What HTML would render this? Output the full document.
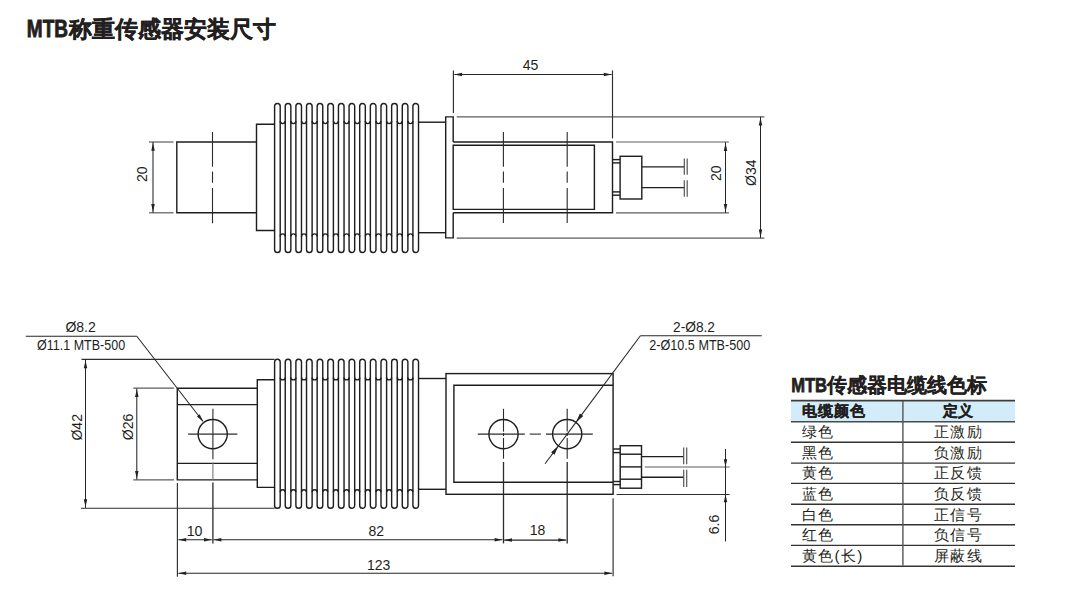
<!DOCTYPE html>
<html><head><meta charset="utf-8"><style>
html,body{margin:0;padding:0;background:#fff;width:1078px;height:609px;overflow:hidden;position:relative;font-family:"Liberation Sans",sans-serif;}
svg{position:absolute;left:0;top:0;}
.o{fill:none;stroke:#1e1e1e;stroke-width:1.42;}
.d{fill:none;stroke:#262626;stroke-width:1.05;}
.e{fill:none;stroke:#2e2e2e;stroke-width:1.15;}
.c{fill:none;stroke:#2a2a2a;stroke-width:1.1;}
.c2{fill:none;stroke:#777;stroke-width:1.1;}
.x{fill:none;stroke:#2a2a2a;stroke-width:1.3;}
.g{fill:none;stroke:#5c5c5c;stroke-width:1.2;}
.b{fill:none;stroke:#555;stroke-width:1.2;}
.ar{fill:#222;stroke:none;}
.t{fill:#1e1e1e;font-family:"Liberation Sans",sans-serif;}
.cj{fill:#231f20;font-family:"Liberation Sans",sans-serif;}
</style></head><body>
<svg width="1078" height="609" viewBox="0 0 1078 609">
<path class="o" d="M256.5,142 L176.8,142 L176.8,212.8 L256.5,212.8"/>
<line class="c" x1="212.50" y1="131.90" x2="212.50" y2="166.70"/>
<line class="c" x1="212.50" y1="171.60" x2="212.50" y2="182.80"/>
<line class="c" x1="212.50" y1="187.90" x2="212.50" y2="223.30"/>
<path class="o" d="M274.6,124.2 L256.5,124.2 L256.5,230.5 L274.6,230.5"/>
<path class="o" d="M274.60,106.30 A2.80,2.80 0 0 1 280.20,106.30 L280.20,249.70 A2.80,2.80 0 0 1 274.60,249.70 Z"/>
<path class="o" d="M285.24,106.30 A2.80,2.80 0 0 1 290.84,106.30 L290.84,249.70 A2.80,2.80 0 0 1 285.24,249.70 Z"/>
<path class="o" d="M295.88,106.30 A2.80,2.80 0 0 1 301.48,106.30 L301.48,249.70 A2.80,2.80 0 0 1 295.88,249.70 Z"/>
<path class="o" d="M306.52,106.30 A2.80,2.80 0 0 1 312.12,106.30 L312.12,249.70 A2.80,2.80 0 0 1 306.52,249.70 Z"/>
<path class="o" d="M317.16,106.30 A2.80,2.80 0 0 1 322.76,106.30 L322.76,249.70 A2.80,2.80 0 0 1 317.16,249.70 Z"/>
<path class="o" d="M327.80,106.30 A2.80,2.80 0 0 1 333.40,106.30 L333.40,249.70 A2.80,2.80 0 0 1 327.80,249.70 Z"/>
<path class="o" d="M338.44,106.30 A2.80,2.80 0 0 1 344.04,106.30 L344.04,249.70 A2.80,2.80 0 0 1 338.44,249.70 Z"/>
<path class="o" d="M349.08,106.30 A2.80,2.80 0 0 1 354.68,106.30 L354.68,249.70 A2.80,2.80 0 0 1 349.08,249.70 Z"/>
<path class="o" d="M359.72,106.30 A2.80,2.80 0 0 1 365.32,106.30 L365.32,249.70 A2.80,2.80 0 0 1 359.72,249.70 Z"/>
<path class="o" d="M370.36,106.30 A2.80,2.80 0 0 1 375.96,106.30 L375.96,249.70 A2.80,2.80 0 0 1 370.36,249.70 Z"/>
<path class="o" d="M381.00,106.30 A2.80,2.80 0 0 1 386.60,106.30 L386.60,249.70 A2.80,2.80 0 0 1 381.00,249.70 Z"/>
<path class="o" d="M391.64,106.30 A2.80,2.80 0 0 1 397.24,106.30 L397.24,249.70 A2.80,2.80 0 0 1 391.64,249.70 Z"/>
<path class="o" d="M402.28,106.30 A2.80,2.80 0 0 1 407.88,106.30 L407.88,249.70 A2.80,2.80 0 0 1 402.28,249.70 Z"/>
<path class="o" d="M412.92,106.30 A2.80,2.80 0 0 1 418.52,106.30 L418.52,249.70 A2.80,2.80 0 0 1 412.92,249.70 Z"/>
<path class="o" d="M280.20,121.08 A2.52,2.52 0 0 0 285.24,121.08"/>
<path class="o" d="M280.20,236.42 A2.52,2.52 0 0 1 285.24,236.42"/>
<path class="o" d="M290.84,121.08 A2.52,2.52 0 0 0 295.88,121.08"/>
<path class="o" d="M290.84,236.42 A2.52,2.52 0 0 1 295.88,236.42"/>
<path class="o" d="M301.48,121.08 A2.52,2.52 0 0 0 306.52,121.08"/>
<path class="o" d="M301.48,236.42 A2.52,2.52 0 0 1 306.52,236.42"/>
<path class="o" d="M312.12,121.08 A2.52,2.52 0 0 0 317.16,121.08"/>
<path class="o" d="M312.12,236.42 A2.52,2.52 0 0 1 317.16,236.42"/>
<path class="o" d="M322.76,121.08 A2.52,2.52 0 0 0 327.80,121.08"/>
<path class="o" d="M322.76,236.42 A2.52,2.52 0 0 1 327.80,236.42"/>
<path class="o" d="M333.40,121.08 A2.52,2.52 0 0 0 338.44,121.08"/>
<path class="o" d="M333.40,236.42 A2.52,2.52 0 0 1 338.44,236.42"/>
<path class="o" d="M344.04,121.08 A2.52,2.52 0 0 0 349.08,121.08"/>
<path class="o" d="M344.04,236.42 A2.52,2.52 0 0 1 349.08,236.42"/>
<path class="o" d="M354.68,121.08 A2.52,2.52 0 0 0 359.72,121.08"/>
<path class="o" d="M354.68,236.42 A2.52,2.52 0 0 1 359.72,236.42"/>
<path class="o" d="M365.32,121.08 A2.52,2.52 0 0 0 370.36,121.08"/>
<path class="o" d="M365.32,236.42 A2.52,2.52 0 0 1 370.36,236.42"/>
<path class="o" d="M375.96,121.08 A2.52,2.52 0 0 0 381.00,121.08"/>
<path class="o" d="M375.96,236.42 A2.52,2.52 0 0 1 381.00,236.42"/>
<path class="o" d="M386.60,121.08 A2.52,2.52 0 0 0 391.64,121.08"/>
<path class="o" d="M386.60,236.42 A2.52,2.52 0 0 1 391.64,236.42"/>
<path class="o" d="M397.24,121.08 A2.52,2.52 0 0 0 402.28,121.08"/>
<path class="o" d="M397.24,236.42 A2.52,2.52 0 0 1 402.28,236.42"/>
<path class="o" d="M407.88,121.08 A2.52,2.52 0 0 0 412.92,121.08"/>
<path class="o" d="M407.88,236.42 A2.52,2.52 0 0 1 412.92,236.42"/>
<line class="o" x1="418.20" y1="122.20" x2="445.70" y2="122.20"/>
<line class="o" x1="418.20" y1="232.70" x2="445.70" y2="232.70"/>
<path class="o" d="M453.2,142 L453.2,116.9 L445.7,116.9 L445.7,237.9 L453.2,237.9 L453.2,212.8"/>
<path class="o" d="M453.2,142 L612.5,142 L612.5,212.8 L453.2,212.8"/>
<path class="o" d="M453.2,145.2 L594.4,145.2 L594.4,209.4 L453.2,209.4 Z"/>
<line class="c" x1="503.40" y1="131.90" x2="503.40" y2="166.70"/>
<line class="c" x1="503.40" y1="171.60" x2="503.40" y2="182.80"/>
<line class="c" x1="503.40" y1="187.90" x2="503.40" y2="223.00"/>
<line class="c" x1="567.20" y1="131.90" x2="567.20" y2="166.70"/>
<line class="c" x1="567.20" y1="171.60" x2="567.20" y2="182.80"/>
<line class="c" x1="567.20" y1="187.90" x2="567.20" y2="223.00"/>
<line class="o" x1="612.50" y1="159.60" x2="620.10" y2="159.60"/>
<line class="o" x1="612.50" y1="162.90" x2="620.10" y2="162.90"/>
<line class="o" x1="612.50" y1="191.90" x2="620.10" y2="191.90"/>
<line class="o" x1="612.50" y1="195.20" x2="620.10" y2="195.20"/>
<rect class="o" x="620.1" y="156.3" width="21.7" height="42.7"/>
<line class="o" x1="641.80" y1="166.90" x2="684.10" y2="166.90"/>
<line class="o" x1="641.80" y1="187.60" x2="684.10" y2="187.60"/>
<line class="b" x1="684.30" y1="158.40" x2="684.30" y2="174.70"/>
<line class="b" x1="684.30" y1="180.30" x2="684.30" y2="196.80"/>
<line class="b" x1="687.20" y1="158.40" x2="687.20" y2="174.70"/>
<line class="b" x1="687.20" y1="180.30" x2="687.20" y2="196.80"/>
<line class="g" x1="456.70" y1="116.90" x2="764.40" y2="116.90"/>
<line class="g" x1="456.70" y1="238.10" x2="764.40" y2="238.10"/>
<line class="g" x1="616.00" y1="142.00" x2="728.90" y2="142.00"/>
<line class="g" x1="616.00" y1="212.80" x2="728.90" y2="212.80"/>
<line class="g" x1="149.00" y1="142.00" x2="173.50" y2="142.00"/>
<line class="g" x1="149.00" y1="212.80" x2="173.50" y2="212.80"/>
<line class="e" x1="453.40" y1="70.40" x2="453.40" y2="113.10"/>
<line class="e" x1="612.50" y1="70.40" x2="612.50" y2="138.50"/>
<line class="d" x1="454.30" y1="74.50" x2="611.60" y2="74.50"/>
<path class="ar" d="M454.30,74.50 L462.10,72.75 L462.10,76.25Z"/>
<path class="ar" d="M611.60,74.50 L603.80,76.25 L603.80,72.75Z"/>
<text class="t" x="530.50" y="69.90" font-size="14" text-anchor="middle">45</text>
<line class="d" x1="153.00" y1="142.00" x2="153.00" y2="212.80"/>
<path class="ar" d="M153.00,142.90 L154.75,150.70 L151.25,150.70Z"/>
<path class="ar" d="M153.00,211.90 L151.25,204.10 L154.75,204.10Z"/>
<text class="t" x="147.20" y="174.20" font-size="14" text-anchor="middle" transform="rotate(-90 147.20 174.20)">20</text>
<line class="d" x1="725.50" y1="142.20" x2="725.50" y2="212.80"/>
<path class="ar" d="M725.50,143.10 L727.25,150.90 L723.75,150.90Z"/>
<path class="ar" d="M725.50,211.90 L723.75,204.10 L727.25,204.10Z"/>
<text class="t" x="721.30" y="173.20" font-size="14" text-anchor="middle" transform="rotate(-90 721.30 173.20)">20</text>
<line class="d" x1="760.50" y1="116.90" x2="760.50" y2="238.10"/>
<path class="ar" d="M760.50,117.80 L762.25,125.60 L758.75,125.60Z"/>
<path class="ar" d="M760.50,237.20 L758.75,229.40 L762.25,229.40Z"/>
<text class="t" x="756.30" y="172.70" font-size="14" text-anchor="middle" transform="rotate(-90 756.30 172.70)">Ø34</text>
<path class="o" d="M257.3,388.2 L177.3,388.2 L177.3,479.9 L257.3,479.9"/>
<line class="o" x1="177.30" y1="404.60" x2="257.50" y2="404.60"/>
<line class="o" x1="177.30" y1="463.40" x2="257.50" y2="463.40"/>
<path class="o" d="M274.6,379.8 L257.3,379.8 L257.3,487.4 L274.6,487.4"/>
<path class="o" d="M274.60,362.10 A2.80,2.80 0 0 1 280.20,362.10 L280.20,505.50 A2.80,2.80 0 0 1 274.60,505.50 Z"/>
<path class="o" d="M285.24,362.10 A2.80,2.80 0 0 1 290.84,362.10 L290.84,505.50 A2.80,2.80 0 0 1 285.24,505.50 Z"/>
<path class="o" d="M295.88,362.10 A2.80,2.80 0 0 1 301.48,362.10 L301.48,505.50 A2.80,2.80 0 0 1 295.88,505.50 Z"/>
<path class="o" d="M306.52,362.10 A2.80,2.80 0 0 1 312.12,362.10 L312.12,505.50 A2.80,2.80 0 0 1 306.52,505.50 Z"/>
<path class="o" d="M317.16,362.10 A2.80,2.80 0 0 1 322.76,362.10 L322.76,505.50 A2.80,2.80 0 0 1 317.16,505.50 Z"/>
<path class="o" d="M327.80,362.10 A2.80,2.80 0 0 1 333.40,362.10 L333.40,505.50 A2.80,2.80 0 0 1 327.80,505.50 Z"/>
<path class="o" d="M338.44,362.10 A2.80,2.80 0 0 1 344.04,362.10 L344.04,505.50 A2.80,2.80 0 0 1 338.44,505.50 Z"/>
<path class="o" d="M349.08,362.10 A2.80,2.80 0 0 1 354.68,362.10 L354.68,505.50 A2.80,2.80 0 0 1 349.08,505.50 Z"/>
<path class="o" d="M359.72,362.10 A2.80,2.80 0 0 1 365.32,362.10 L365.32,505.50 A2.80,2.80 0 0 1 359.72,505.50 Z"/>
<path class="o" d="M370.36,362.10 A2.80,2.80 0 0 1 375.96,362.10 L375.96,505.50 A2.80,2.80 0 0 1 370.36,505.50 Z"/>
<path class="o" d="M381.00,362.10 A2.80,2.80 0 0 1 386.60,362.10 L386.60,505.50 A2.80,2.80 0 0 1 381.00,505.50 Z"/>
<path class="o" d="M391.64,362.10 A2.80,2.80 0 0 1 397.24,362.10 L397.24,505.50 A2.80,2.80 0 0 1 391.64,505.50 Z"/>
<path class="o" d="M402.28,362.10 A2.80,2.80 0 0 1 407.88,362.10 L407.88,505.50 A2.80,2.80 0 0 1 402.28,505.50 Z"/>
<path class="o" d="M412.92,362.10 A2.80,2.80 0 0 1 418.52,362.10 L418.52,505.50 A2.80,2.80 0 0 1 412.92,505.50 Z"/>
<path class="o" d="M280.20,377.38 A2.52,2.52 0 0 0 285.24,377.38"/>
<path class="o" d="M280.20,492.22 A2.52,2.52 0 0 1 285.24,492.22"/>
<path class="o" d="M290.84,377.38 A2.52,2.52 0 0 0 295.88,377.38"/>
<path class="o" d="M290.84,492.22 A2.52,2.52 0 0 1 295.88,492.22"/>
<path class="o" d="M301.48,377.38 A2.52,2.52 0 0 0 306.52,377.38"/>
<path class="o" d="M301.48,492.22 A2.52,2.52 0 0 1 306.52,492.22"/>
<path class="o" d="M312.12,377.38 A2.52,2.52 0 0 0 317.16,377.38"/>
<path class="o" d="M312.12,492.22 A2.52,2.52 0 0 1 317.16,492.22"/>
<path class="o" d="M322.76,377.38 A2.52,2.52 0 0 0 327.80,377.38"/>
<path class="o" d="M322.76,492.22 A2.52,2.52 0 0 1 327.80,492.22"/>
<path class="o" d="M333.40,377.38 A2.52,2.52 0 0 0 338.44,377.38"/>
<path class="o" d="M333.40,492.22 A2.52,2.52 0 0 1 338.44,492.22"/>
<path class="o" d="M344.04,377.38 A2.52,2.52 0 0 0 349.08,377.38"/>
<path class="o" d="M344.04,492.22 A2.52,2.52 0 0 1 349.08,492.22"/>
<path class="o" d="M354.68,377.38 A2.52,2.52 0 0 0 359.72,377.38"/>
<path class="o" d="M354.68,492.22 A2.52,2.52 0 0 1 359.72,492.22"/>
<path class="o" d="M365.32,377.38 A2.52,2.52 0 0 0 370.36,377.38"/>
<path class="o" d="M365.32,492.22 A2.52,2.52 0 0 1 370.36,492.22"/>
<path class="o" d="M375.96,377.38 A2.52,2.52 0 0 0 381.00,377.38"/>
<path class="o" d="M375.96,492.22 A2.52,2.52 0 0 1 381.00,492.22"/>
<path class="o" d="M386.60,377.38 A2.52,2.52 0 0 0 391.64,377.38"/>
<path class="o" d="M386.60,492.22 A2.52,2.52 0 0 1 391.64,492.22"/>
<path class="o" d="M397.24,377.38 A2.52,2.52 0 0 0 402.28,377.38"/>
<path class="o" d="M397.24,492.22 A2.52,2.52 0 0 1 402.28,492.22"/>
<path class="o" d="M407.88,377.38 A2.52,2.52 0 0 0 412.92,377.38"/>
<path class="o" d="M407.88,492.22 A2.52,2.52 0 0 1 412.92,492.22"/>
<line class="o" x1="418.20" y1="378.50" x2="446.00" y2="378.50"/>
<line class="o" x1="418.20" y1="489.30" x2="446.00" y2="489.30"/>
<rect class="o" x="446" y="373.6" width="167.1" height="120.7"/>
<path class="o" d="M613.1,385.3 L453.9,385.3 L453.9,482.2 L613.1,482.2"/>
<circle class="o" cx="212.7" cy="434.1" r="14.6"/>
<circle class="o" cx="503.5" cy="434.1" r="14.6"/>
<circle class="o" cx="567.2" cy="434.1" r="14.6"/>
<line class="c" x1="188.20" y1="434.10" x2="237.30" y2="434.10"/>
<line class="c" x1="212.90" y1="408.80" x2="212.90" y2="459.20"/>
<line class="c2" x1="212.90" y1="462.50" x2="212.90" y2="480.00"/>
<line class="x" x1="212.90" y1="482.50" x2="212.90" y2="543.60"/>
<line class="c" x1="477.80" y1="434.10" x2="524.80" y2="434.10"/>
<line class="c" x1="529.70" y1="434.10" x2="540.90" y2="434.10"/>
<line class="c" x1="546.00" y1="434.10" x2="592.80" y2="434.10"/>
<line class="c" x1="503.50" y1="408.80" x2="503.50" y2="431.60"/>
<line class="c" x1="503.50" y1="433.00" x2="503.50" y2="436.00"/>
<line class="c" x1="503.50" y1="438.00" x2="503.50" y2="458.70"/>
<line class="x" x1="503.50" y1="462.00" x2="503.50" y2="543.40"/>
<line class="c" x1="567.20" y1="408.80" x2="567.20" y2="431.60"/>
<line class="c" x1="567.20" y1="433.00" x2="567.20" y2="436.00"/>
<line class="c" x1="567.20" y1="438.00" x2="567.20" y2="458.70"/>
<line class="x" x1="567.20" y1="462.00" x2="567.20" y2="543.40"/>
<line class="o" x1="613.10" y1="449.00" x2="620.20" y2="449.00"/>
<line class="o" x1="613.10" y1="452.60" x2="620.20" y2="452.60"/>
<line class="o" x1="613.10" y1="481.50" x2="620.20" y2="481.50"/>
<line class="o" x1="613.10" y1="484.60" x2="620.20" y2="484.60"/>
<rect class="o" x="620.2" y="445.7" width="21.3" height="42.5"/>
<line class="o" x1="620.20" y1="454.20" x2="641.50" y2="454.20"/>
<line class="o" x1="620.20" y1="466.90" x2="641.50" y2="466.90"/>
<line class="o" x1="620.20" y1="479.20" x2="641.50" y2="479.20"/>
<line class="o" x1="641.50" y1="456.60" x2="683.50" y2="456.60"/>
<line class="o" x1="641.50" y1="477.30" x2="683.50" y2="477.30"/>
<line class="b" x1="683.70" y1="447.50" x2="683.70" y2="464.30"/>
<line class="b" x1="683.70" y1="469.70" x2="683.70" y2="486.90"/>
<line class="b" x1="686.70" y1="447.50" x2="686.70" y2="464.30"/>
<line class="b" x1="686.70" y1="469.70" x2="686.70" y2="486.90"/>
<line class="e" x1="81.50" y1="359.40" x2="274.60" y2="359.40"/>
<line class="e" x1="81.00" y1="508.20" x2="274.60" y2="508.20"/>
<line class="g" x1="133.30" y1="388.20" x2="174.00" y2="388.20"/>
<line class="g" x1="133.30" y1="479.90" x2="174.00" y2="479.90"/>
<line class="e" x1="177.40" y1="483.10" x2="177.40" y2="576.70"/>
<line class="e" x1="613.10" y1="498.20" x2="613.10" y2="576.20"/>
<line class="g" x1="644.80" y1="467.00" x2="729.70" y2="467.00"/>
<line class="e" x1="616.60" y1="494.50" x2="729.70" y2="494.50"/>
<line class="d" x1="85.50" y1="359.60" x2="85.50" y2="507.90"/>
<path class="ar" d="M85.50,360.50 L87.25,368.30 L83.75,368.30Z"/>
<path class="ar" d="M85.50,507.00 L83.75,499.20 L87.25,499.20Z"/>
<text class="t" x="81.60" y="427.30" font-size="14" text-anchor="middle" transform="rotate(-90 81.60 427.30)">Ø42</text>
<line class="d" x1="136.80" y1="388.40" x2="136.80" y2="479.60"/>
<path class="ar" d="M136.80,389.30 L138.55,397.10 L135.05,397.10Z"/>
<path class="ar" d="M136.80,478.70 L135.05,470.90 L138.55,470.90Z"/>
<text class="t" x="132.80" y="426.90" font-size="14" text-anchor="middle" transform="rotate(-90 132.80 426.90)">Ø26</text>
<line class="d" x1="178.40" y1="539.80" x2="211.80" y2="539.80"/>
<path class="ar" d="M178.40,539.80 L186.20,538.05 L186.20,541.55Z"/>
<path class="ar" d="M211.80,539.80 L204.00,541.55 L204.00,538.05Z"/>
<text class="t" x="194.60" y="536.20" font-size="14" text-anchor="middle" textLength="15.8" lengthAdjust="spacingAndGlyphs">10</text>
<line class="d" x1="213.60" y1="539.80" x2="502.40" y2="539.80"/>
<path class="ar" d="M213.60,539.80 L221.40,538.05 L221.40,541.55Z"/>
<path class="ar" d="M502.40,539.80 L494.60,541.55 L494.60,538.05Z"/>
<text class="t" x="376.20" y="535.60" font-size="14" text-anchor="middle">82</text>
<line class="d" x1="504.20" y1="540.10" x2="566.20" y2="540.10"/>
<path class="ar" d="M504.20,540.10 L512.00,538.35 L512.00,541.85Z"/>
<path class="ar" d="M566.20,540.10 L558.40,541.85 L558.40,538.35Z"/>
<text class="t" x="537.50" y="534.80" font-size="14" text-anchor="middle">18</text>
<line class="d" x1="178.40" y1="573.30" x2="612.20" y2="573.30"/>
<path class="ar" d="M178.40,573.30 L186.20,571.55 L186.20,575.05Z"/>
<path class="ar" d="M612.20,573.30 L604.40,575.05 L604.40,571.55Z"/>
<text class="t" x="378.70" y="569.60" font-size="14" text-anchor="middle">123</text>
<line class="d" x1="725.50" y1="449.00" x2="725.50" y2="541.50"/>
<path class="ar" d="M725.50,467.00 L723.75,459.20 L727.25,459.20Z"/>
<path class="ar" d="M725.50,494.50 L727.25,502.30 L723.75,502.30Z"/>
<text class="t" x="719.00" y="524.50" font-size="14" text-anchor="middle" transform="rotate(-90 719.00 524.50)">6.6</text>
<line class="d" x1="25.80" y1="336.20" x2="136.80" y2="336.20"/>
<line class="d" x1="136.80" y1="336.20" x2="202.90" y2="421.30"/>
<path class="ar" d="M203.50,422.10 L196.95,416.43 L199.63,414.34Z"/>
<text class="t" x="80.60" y="332.20" font-size="14" text-anchor="middle">Ø8.2</text>
<text class="t" x="81.10" y="350.10" font-size="14" text-anchor="middle" textLength="88" lengthAdjust="spacingAndGlyphs">Ø11.1 MTB-500</text>
<line class="d" x1="640.40" y1="335.70" x2="761.80" y2="335.70"/>
<line class="d" x1="640.40" y1="335.70" x2="575.92" y2="422.39"/>
<path class="ar" d="M575.92,422.39 L579.91,413.52 L583.28,416.03Z"/>
<line class="d" x1="575.92" y1="422.39" x2="545.10" y2="463.77"/>
<path class="ar" d="M558.48,445.81 L554.49,454.68 L551.12,452.17Z"/>
<text class="t" x="694.00" y="332.20" font-size="14" text-anchor="middle" textLength="42" lengthAdjust="spacingAndGlyphs">2-Ø8.2</text>
<text class="t" x="699.80" y="349.80" font-size="14" text-anchor="middle" textLength="101" lengthAdjust="spacingAndGlyphs">2-Ø10.5 MTB-500</text>
<rect x="791" y="400.5" width="224" height="21" fill="#d2ecf9"/>
<line x1="791" y1="400.6" x2="1015" y2="400.6" stroke="#3c3c3c" stroke-width="1.7"/>
<line x1="791" y1="421.8" x2="1015" y2="421.8" stroke="#4a4a4a" stroke-width="1.6"/>
<line x1="791" y1="442.2" x2="1015" y2="442.2" stroke="#333" stroke-width="1.4"/>
<line x1="791" y1="463.1" x2="1015" y2="463.1" stroke="#333" stroke-width="1.4"/>
<line x1="791" y1="483.4" x2="1015" y2="483.4" stroke="#333" stroke-width="1.4"/>
<line x1="791" y1="504.2" x2="1015" y2="504.2" stroke="#333" stroke-width="1.4"/>
<line x1="791" y1="524.8" x2="1015" y2="524.8" stroke="#333" stroke-width="1.4"/>
<line x1="791" y1="545.4" x2="1015" y2="545.4" stroke="#333" stroke-width="1.4"/>
<line x1="791" y1="566.2" x2="1015" y2="566.2" stroke="#333" stroke-width="1.4"/>
<line x1="902.9" y1="401" x2="902.9" y2="565.5" stroke="#555" stroke-width="1.4"/>
<text class="cj" x="802.3" y="416" font-size="15" letter-spacing="0.8" font-weight="bold" stroke="#231f20" stroke-width="0.3">电缆颜色</text>
<text class="cj" x="957.5" y="416" font-size="15" font-weight="bold" stroke="#231f20" stroke-width="0.3" text-anchor="middle">定义</text>
<text class="cj" x="802" y="437.1" font-size="15.3" letter-spacing="1.3">绿色</text>
<text class="cj" x="958.6" y="437.1" font-size="15.3" letter-spacing="1.2" text-anchor="middle">正激励</text>
<text class="cj" x="802" y="458.0" font-size="15.3" letter-spacing="1.3">黑色</text>
<text class="cj" x="958.6" y="458.0" font-size="15.3" letter-spacing="1.2" text-anchor="middle">负激励</text>
<text class="cj" x="802" y="478.3" font-size="15.3" letter-spacing="1.3">黄色</text>
<text class="cj" x="958.6" y="478.3" font-size="15.3" letter-spacing="1.2" text-anchor="middle">正反馈</text>
<text class="cj" x="802" y="499.1" font-size="15.3" letter-spacing="1.3">蓝色</text>
<text class="cj" x="958.6" y="499.1" font-size="15.3" letter-spacing="1.2" text-anchor="middle">负反馈</text>
<text class="cj" x="802" y="519.7" font-size="15.3" letter-spacing="1.3">白色</text>
<text class="cj" x="958.6" y="519.7" font-size="15.3" letter-spacing="1.2" text-anchor="middle">正信号</text>
<text class="cj" x="802" y="540.3" font-size="15.3" letter-spacing="1.3">红色</text>
<text class="cj" x="958.6" y="540.3" font-size="15.3" letter-spacing="1.2" text-anchor="middle">负信号</text>
<text class="cj" x="802" y="561.1" font-size="15.3" letter-spacing="1.3">黄色(长)</text>
<text class="cj" x="958.6" y="561.1" font-size="15.3" letter-spacing="1.2" text-anchor="middle">屏蔽线</text>
<text class="cj" x="26.8" y="36.9" font-size="23.9" font-weight="bold" stroke="#231f20" stroke-width="0.85" textLength="41.2" lengthAdjust="spacingAndGlyphs">MTB</text>
<text class="cj" x="68.6" y="37" font-size="23.4" font-weight="bold" stroke="#231f20" stroke-width="0.35">称重传感器安装尺寸</text>
<text class="cj" x="791.2" y="392.1" font-size="19.6" font-weight="bold" stroke="#231f20" stroke-width="0.75" textLength="35.8" lengthAdjust="spacingAndGlyphs">MTB</text>
<text class="cj" x="827.2" y="392.2" font-size="19.6" font-weight="bold" stroke="#231f20" stroke-width="0.25">传感器电缆线色标</text>
</svg>
</body></html>
